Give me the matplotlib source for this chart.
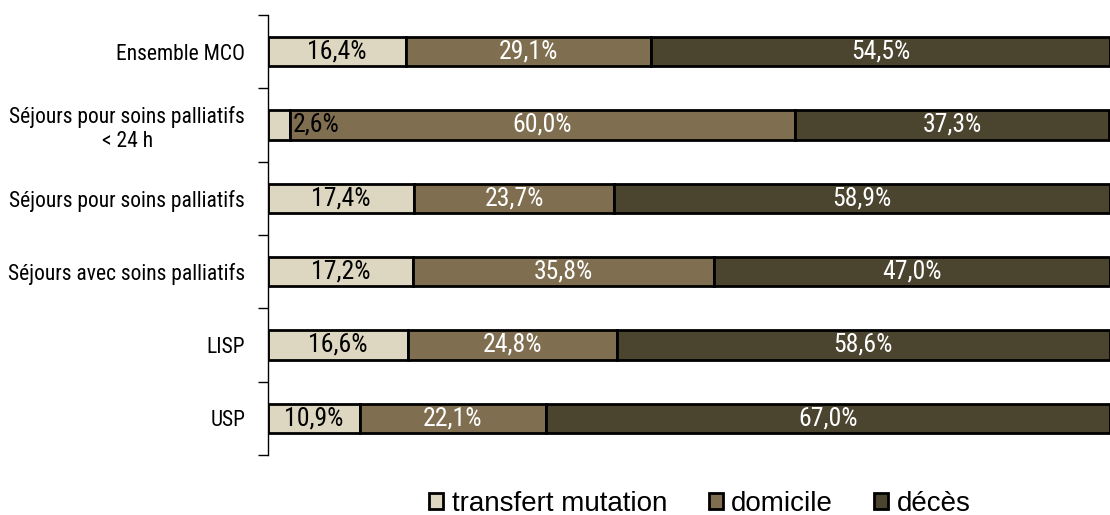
import numpy as np
import matplotlib.pyplot as plt
from matplotlib import font_manager

# categories from top to bottom as in the chart
categories = ["Ensemble MCO", "Séjours pour soins palliatifs\n< 24 h", "Séjours pour soins palliatifs",
              "Séjours avec soins palliatifs", "LISP", "USP"]
transfert = [16.4, 2.6, 17.4, 17.2, 16.6, 10.9]
domicile = [29.1, 60.0, 23.7, 35.8, 24.8, 22.1]
deces = [54.5, 37.3, 58.9, 47.0, 58.6, 67.0]

series_names = ["transfert mutation", "domicile", "décès"]
colors = ["#ddd7c1", "#7f6f50", "#4b4530"]
text_colors = ["black", "white", "white"]

# look for a narrow face, the original uses a condensed font
names = set(f.name for f in font_manager.fontManager.ttflist)
cond_font = None
for cand in ["Liberation Sans Narrow", "Roboto Condensed", "DejaVu Sans Condensed",
             "Open Sans Condensed", "Noto Sans Condensed"]:
    if cand in names:
        cond_font = cand
        break
stretch = "normal"
if cond_font is None:
    cond_font = "DejaVu Sans"
    stretch = "condensed"

fig = plt.figure(figsize=(11.1, 5.15), dpi=100)
ax = fig.add_axes([0.2414, 0.1165, 0.7586, 0.8545])

y = np.arange(len(categories))[::-1]
left = np.zeros(len(categories))
for vals, name, col, tcol in zip([transfert, domicile, deces], series_names, colors, text_colors):
    vals = np.array(vals)
    ax.barh(y, vals, left=left, height=0.4, color=col, edgecolor="black",
            linewidth=2, label=name)
    for yy, l, v in zip(y, left, vals):
        txt = ("%.1f%%" % v).replace(".", ",")
        if v < 5:
            # too small: label goes just right of the segment
            ax.text(l + v + 0.4, yy, txt, ha="left", va="center", color="black",
                    fontsize=18.5, family=cond_font, fontstretch=stretch)
        else:
            ax.text(l + v / 2, yy, txt, ha="center", va="center", color=tcol,
                    fontsize=18.5, family=cond_font, fontstretch=stretch)
    left = left + vals

ax.set_xlim(0, 100)
ax.set_ylim(-0.5, len(categories) - 0.5)
ax.set_xticks([])
ax.set_yticks(np.arange(-0.5, len(categories), 1.0))
ax.set_yticklabels([])
ax.tick_params(axis="y", which="major", length=7, width=1, direction="out")
ax.set_yticks(y, minor=True)
ax.set_yticklabels(categories, minor=True, fontsize=15.5, family=cond_font,
                   fontstretch=stretch, ha="right", multialignment="center")
ax.tick_params(axis="y", which="minor", length=0, pad=16.5)
for s in ["top", "right", "bottom"]:
    ax.spines[s].set_visible(False)
ax.spines["left"].set_linewidth(1)

fig.legend(loc="center", bbox_to_anchor=(0.6306, 0.021), ncol=3, frameon=False,
           prop={"family": "Liberation Sans", "size": 20}, handlelength=0.5, handleheight=0.5,
           handletextpad=0.3, columnspacing=1.5, borderpad=0)

fig.savefig("out.png", dpi=100)
